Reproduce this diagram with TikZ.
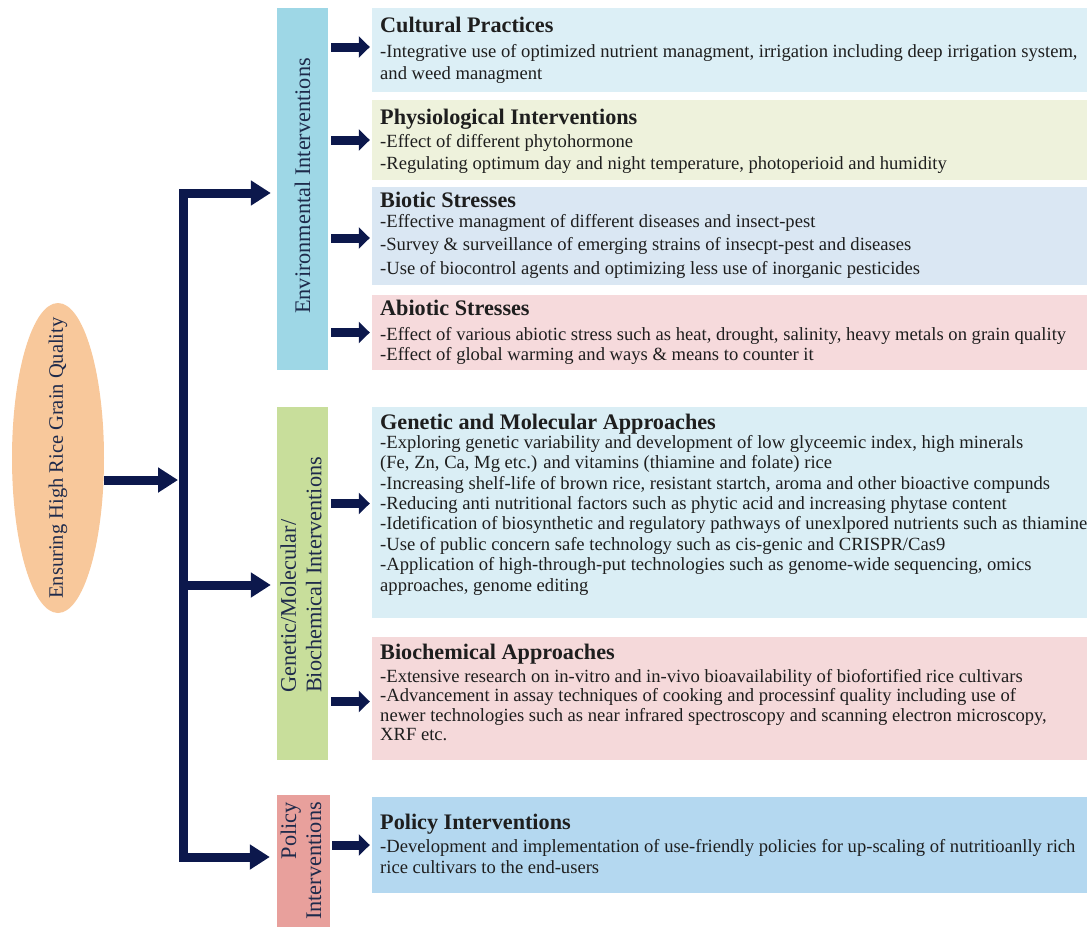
\documentclass[tikz,border=0pt]{standalone}
\usepackage{fontspec}
\setmainfont{Liberation Serif}
\usetikzlibrary{arrows.meta,calc,shapes.geometric}
\definecolor{navy}{RGB}{12,24,76}
\definecolor{envc}{RGB}{158,215,230}
\definecolor{genc}{RGB}{200,222,155}
\definecolor{polc}{RGB}{232,160,156}
\definecolor{ellc}{RGB}{248,200,155}
\definecolor{cultc}{RGB}{220,239,246}
\definecolor{physc}{RGB}{238,242,220}
\definecolor{biotc}{RGB}{218,231,243}
\definecolor{abiotc}{RGB}{246,218,220}
\definecolor{genbc}{RGB}{218,238,245}
\definecolor{biochc}{RGB}{245,217,218}
\definecolor{polbc}{RGB}{180,216,240}
\definecolor{txt}{RGB}{30,30,30}
\definecolor{vtxt}{RGB}{30,42,75}
\newcommand{\bodyfs}[1]{\fontsize{18.6}{#1}\selectfont}
\newcommand{\fl}{\rule{0pt}{11pt}}
\tikzset{
  vbar/.style={draw=none, inner sep=0},
  cbox/.style={draw=none, inner sep=0, minimum width=715},
  vlabel/.style={rotate=90, text=vtxt, font=\fontsize{22.3}{25}\selectfont, inner sep=0},
  ttl/.style={anchor=base west, inner sep=0, text=txt, font=\fontsize{22.2}{26}\selectfont\bfseries},
  body/.style={anchor=north west, inner sep=0, text=txt, align=left},
  barr/.style={draw=navy, line width=9, -{Triangle[length=20,width=24]}},
  darr/.style={draw=navy, line width=9, line join=miter, {Triangle[length=20,width=24]}-{Triangle[length=20,width=24]}},
  sarr/.style={draw=navy, line width=9, -{Triangle[length=11,width=21]}},
}
\begin{document}
\begin{tikzpicture}[x=1pt,y=-1pt]
\useasboundingbox (0,0) rectangle (1089,926);
% ellipse
\node[ellipse, fill=ellc, minimum width=92, minimum height=310, inner sep=0] (ell) at (58,458) {};
\node[vlabel, font=\fontsize{20.5}{24}\selectfont] (elllab) at (ell.center) {Ensuring High Rice Grain Quality};
% vertical bars
\node[vbar, fill=envc, minimum width=51, minimum height=362] (env) at (302.5,189) {};
\node[vlabel] (envlab) at (302.5,186) {Environmental Interventions};
\node[vbar, fill=genc, minimum width=51, minimum height=353] (genv) at (302.5,583.5) {};
\node[vlabel, align=left, font=\fontsize{22.3}{25.5}\selectfont] (genlab) at (301,575) {Genetic/Molecular/\\Biochemical Interventions};
\node[vbar, fill=polc, minimum width=53, minimum height=135] (polv) at (303.5,862.5) {};
\node[vlabel, align=right, font=\fontsize{22.3}{25}\selectfont] (pollab) at (301,861) {Policy\\Interventions};
% content boxes
\node[cbox, fill=cultc, minimum height=84] (cult) at (729.5,50) {};
\node[cbox, fill=physc, minimum height=80] (phys) at (729.5,140) {};
\node[cbox, fill=biotc, minimum height=98] (biot) at (729.5,236) {};
\node[cbox, fill=abiotc, minimum height=75] (abiot) at (729.5,332.5) {};
\node[cbox, fill=genbc, minimum height=211] (genb) at (729.5,512.5) {};
\node[cbox, fill=biochc, minimum height=123] (bioch) at (729.5,698.5) {};
\node[cbox, fill=polbc, minimum height=96] (polb) at (729.5,845) {};
% titles and bodies
\node[ttl] (t1) at (380,32) {Cultural Practices};
\node[body, font=\bodyfs{22}] (b1) at (380,44) {\fl-Integrative use of optimized nutrient managment, irrigation including deep irrigation system,\\and weed managment};
\node[ttl] (t2) at (380,124) {Physiological Interventions};
\node[body, font=\bodyfs{22}] (b2) at (380,134) {\fl-Effect of different phytohormone\\-Regulating optimum day and night temperature, photoperioid and humidity};
\node[ttl] (t3) at (380,207) {Biotic Stresses};
\node[body, font=\bodyfs{23.5}] (b3) at (380,214) {\fl-Effective managment of different diseases and insect-pest\\-Survey \& surveillance of emerging strains of insecpt-pest and diseases\\-Use of biocontrol agents and optimizing less use of inorganic pesticides};
\node[ttl] (t4) at (380,315) {Abiotic Stresses};
\node[body, font=\bodyfs{20}] (b4) at (380,327) {\fl-Effect of various abiotic stress such as heat, drought, salinity, heavy metals on grain quality\\-Effect of global warming and ways \& means to counter it};
\node[ttl] (t5) at (380,429) {Genetic and Molecular Approaches};
\node[body, font=\bodyfs{20.4}] (b5) at (380,435) {\fl-Exploring genetic variability and development of low glyceemic index, high minerals\\(Fe, Zn, Ca, Mg etc.) and vitamins (thiamine and folate) rice\\-Increasing shelf-life of brown rice, resistant startch, aroma and other bioactive compunds\\-Reducing anti nutritional factors such as phytic acid and increasing phytase content\\-Idetification of biosynthetic and regulatory pathways of unexlpored nutrients such as thiamine\\-Use of public concern safe technology such as cis-genic and CRISPR/Cas9\\-Application of high-through-put technologies such as genome-wide sequencing, omics\\approaches, genome editing};
\node[ttl] (t6) at (380,659) {Biochemical Approaches};
\node[body, font=\bodyfs{19.5}] (b6) at (380,669) {\fl-Extensive research on in-vitro and in-vivo bioavailability of biofortified rice cultivars\\-Advancement in assay techniques of cooking and processinf quality including use of\\newer technologies such as near infrared spectroscopy and scanning electron microscopy,\\XRF etc.};
\node[ttl] (t7) at (380,829) {Policy Interventions};
\node[body, font=\bodyfs{21}] (b7) at (380,839) {\fl-Development and implementation of use-friendly policies for up-scaling of nutritioanlly rich\\rice cultivars to the end-users};
% trunk and branches
\coordinate (jt) at (183,193);
\coordinate (jm) at (183,585);
\coordinate (jb) at (183,857);
\coordinate (jc) at (183,480);
\draw[darr] ($(polv.west |- jb)+(-7,0)$) -- (jb) -- (jt) -- ($(env.west |- jt)+(-6,0)$);
\draw[barr] (jm) -- ($(genv.west |- jm)+(-6,0)$);
\draw[barr] (ell.east |- jc) -- ($(jc)+(-5,0)$);
% small arrows
\draw[sarr] ($(env.east |- cult.west)+(3,-3)$) -- ($(cult.west)+(-2,-3)$);
\draw[sarr] ($(env.east |- phys.west)+(3,0)$) -- ($(phys.west)+(-2,0)$);
\draw[sarr] ($(env.east |- biot.west)+(3,2)$) -- ($(biot.west)+(-2,2)$);
\draw[sarr] ($(env.east |- abiot.west)+(3,0)$) -- ($(abiot.west)+(-2,0)$);
\draw[sarr] ($(genv.east |- genb.west)+(3,-9)$) -- ($(genb.west)+(-2,-9)$);
\draw[sarr] ($(genv.east |- bioch.west)+(3,3)$) -- ($(bioch.west)+(-2,3)$);
\draw[sarr] ($(polv.east |- polb.west)+(2,0)$) -- ($(polb.west)+(-2,0)$);
\end{tikzpicture}
\end{document}
